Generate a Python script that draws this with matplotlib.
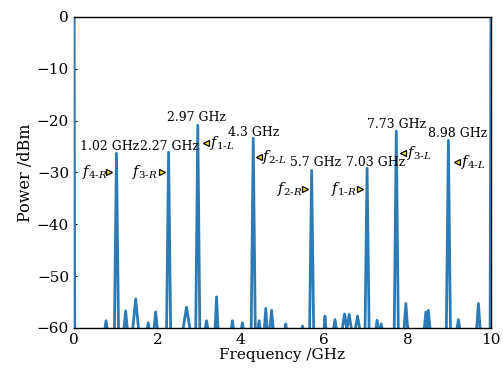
import matplotlib.pyplot as plt
import numpy as np

plt.rcParams['font.family'] = ['DejaVu Serif']
plt.rcParams['mathtext.fontset'] = 'dejavuserif'

# Spectrum peaks: centre (GHz), level (dBm), half width at the floor (GHz)
floor = -61
peak_freq = [0.0, 0.77, 1.02, 1.24, 1.48, 1.78, 1.96, 2.27, 2.70, 2.97, 3.18, 3.42, 3.80, 4.04,
             4.30, 4.44, 4.60, 4.74, 5.08, 5.48, 5.70, 6.02, 6.26, 6.49, 6.60, 6.80, 7.03, 7.27,
             7.37, 7.73, 7.96, 8.44, 8.50, 8.98, 9.22, 9.70, 10.0]
peak_level = [0.0, -58.6, -26.3, -56.7, -54.4, -59.0, -56.9, -26.1, -56.0, -20.9, -58.6, -54.0,
              -58.6, -59.0, -23.4, -58.6, -56.2, -56.6, -59.2, -59.6, -29.6, -57.7, -58.4, -57.3,
              -57.4, -57.7, -29.2, -58.5, -59.2, -22.0, -55.3, -56.9, -56.6, -23.8, -58.4, -55.3, 0.0]
peak_halfwidth = [0.02, 0.04, 0.05, 0.05, 0.08, 0.04, 0.05, 0.05, 0.10, 0.05, 0.05, 0.04, 0.04,
                  0.04, 0.05, 0.04, 0.04, 0.05, 0.03, 0.03, 0.05, 0.03, 0.05, 0.07, 0.07, 0.07,
                  0.05, 0.04, 0.04, 0.05, 0.05, 0.05, 0.05, 0.05, 0.05, 0.05, 0.02]

# Frequency labels of the main lines
ghz_text = ['1.02 GHz', '2.27 GHz', '2.97 GHz', '4.3 GHz', '5.7 GHz', '7.03 GHz', '7.73 GHz', '8.98 GHz']
ghz_x = [0.86, 2.30, 2.94, 4.32, 5.79, 7.23, 7.73, 9.21]
ghz_y = [-25.0, -25.0, -19.3, -22.2, -28.0, -28.0, -20.7, -22.4]

# Sideband markers
mark_num = ['4', '3', '1', '2', '2', '1', '3', '4']
mark_side = ['R', 'R', 'L', 'L', 'R', 'R', 'L', 'L']
mark_x = [0.84, 2.11, 3.16, 4.44, 5.54, 6.86, 7.89, 9.18]
mark_y = [-30.0, -30.0, -24.4, -27.1, -33.1, -33.1, -26.3, -27.9]
label_x = [0.50, 1.70, 3.55, 4.80, 5.18, 6.47, 8.27, 9.57]


def build_trace():
    xs, ys = [], []
    for f, lv, hw in zip(peak_freq, peak_level, peak_halfwidth):
        if f == 0.0:
            xs += [f, f + hw]
            ys += [lv, floor]
        elif f == 10.0:
            xs += [f - hw, f]
            ys += [floor, lv]
        else:
            xs += [f - hw, f, f + hw]
            ys += [floor, lv, floor]
    return xs, ys


def main():
    fig = plt.figure(figsize=(5.03, 3.77), dpi=100)
    ax = fig.add_axes([0.147, 0.130, 0.829, 0.825])

    xs, ys = build_trace()
    ax.plot(xs, ys, color='#2c7bb6', lw=2.0)

    for t, x, y in zip(ghz_text, ghz_x, ghz_y):
        ax.text(x, y, t, ha='center', va='center', fontsize=9)

    for num, side, mx, my, lx in zip(mark_num, mark_side, mark_x, mark_y, label_x):
        m = '>' if side == 'R' else '<'
        ax.plot(mx, my, marker=m, ms=5, mfc='#f2e600', mec='black', mew=0.9, zorder=4)
        ax.text(lx, my, r'$f_{\mathrm{%s}\text{-}%s}$' % (num, side),
                ha='center', va='center', fontsize=10.5)

    ax.set_xlim(0, 10)
    ax.set_ylim(-60, 0)
    ax.set_xticks([0, 2, 4, 6, 8, 10])
    ax.set_yticks(np.arange(-60, 1, 10))
    ax.tick_params(direction='in', length=2, labelsize=11)
    for sp in ax.spines.values():
        sp.set_linewidth(1.0)
    # the DC and 10 GHz edges of the trace sit over the side spines
    ax.spines['left'].set_zorder(1.5)
    ax.spines['right'].set_zorder(1.5)
    ax.set_xlabel('Frequency /GHz', fontsize=11, labelpad=1)
    ax.set_ylabel('Power /dBm', fontsize=11.5, labelpad=2)

    fig.savefig('out.png', dpi=100)
    plt.close()


if __name__ == '__main__':
    main()
